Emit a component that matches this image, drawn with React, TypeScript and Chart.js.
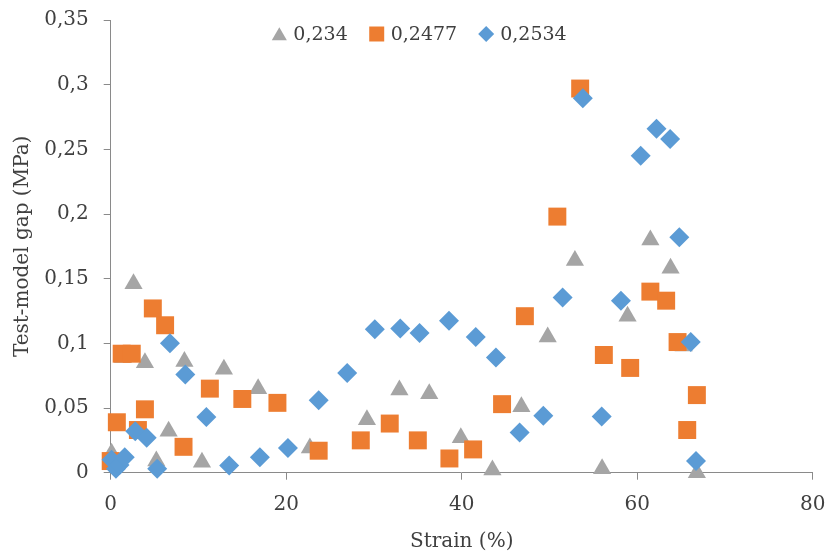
import React, { useEffect, useRef } from 'react';
import { Chart, registerables } from 'chart.js';

Chart.register(...registerables);

// ---- data ----
const seriesNames = ['0,234', '0,2477', '0,2534'];

const xGrey = [0.1, 1.4, 2.6, 3.9, 5.2, 6.6, 8.4, 10.4, 12.9, 16.8, 22.7, 29.2, 32.9, 36.3, 39.9, 43.5, 46.8, 49.8, 52.9, 56.0, 58.9, 61.5, 63.8, 65.3, 66.8];
const yGrey = [0.015, 0.089, 0.146, 0.085, 0.009, 0.032, 0.086, 0.008, 0.080, 0.065, 0.019, 0.041, 0.064, 0.061, 0.027, 0.002, 0.051, 0.105, 0.164, 0.003, 0.121, 0.180, 0.158, 0.098, 0.0];

const xOrange = [0.0, 0.7, 1.25, 2.4, 3.1, 3.9, 4.8, 6.2, 8.3, 11.3, 15.0, 19.0, 23.7, 28.5, 31.8, 35.0, 38.6, 41.3, 44.6, 47.2, 50.9, 53.5, 56.2, 59.2, 61.5, 63.3, 64.6, 65.7, 66.8];
const yOrange = [0.009, 0.039, 0.092, 0.092, 0.033, 0.049, 0.127, 0.114, 0.020, 0.065, 0.057, 0.054, 0.017, 0.025, 0.038, 0.025, 0.011, 0.018, 0.053, 0.121, 0.198, 0.297, 0.091, 0.081, 0.140, 0.133, 0.101, 0.033, 0.060];

const xBlue = [0.1, 0.6, 1.0, 1.6, 2.8, 4.1, 5.3, 6.75, 8.5, 10.9, 13.5, 17.0, 20.2, 23.7, 26.95, 30.1, 33.0, 35.2, 38.55, 41.6, 43.9, 46.6, 49.3, 51.5, 53.8, 55.95, 58.15, 60.4, 62.2, 63.75, 64.8, 66.1, 66.7];
const yBlue = [0.010, 0.003, 0.006, 0.012, 0.032, 0.027, 0.003, 0.100, 0.076, 0.043, 0.0055, 0.012, 0.019, 0.056, 0.077, 0.111, 0.1115, 0.108, 0.1175, 0.105, 0.089, 0.031, 0.044, 0.1355, 0.2895, 0.0435, 0.133, 0.245, 0.266, 0.258, 0.182, 0.101, 0.009];

const xMin = 0;
const xMax = 80;
const xStep = 20;
const yMin = 0;
const yMax = 0.35;
const yStep = 0.05;

const xTitle = 'Strain (%)';
const yTitle = 'Test-model gap (MPa)';

// ---- styles ----
const FONT = '"DejaVu Serif", "Liberation Serif", serif';
const textColor = '#404040';
const axisColor = '#8a8a8a';
const colors = ['#A5A5A5', '#ED7D31', '#5B9BD5'];
const styles = ['triangle', 'rect', 'rectRot'];
const radii = [10.5, 12.7, 10];
const legendRadii = [8.7, 10.6, 8];

function pts(xs: number[], ys: number[]) {
  return xs.map((x, i) => ({ x, y: ys[i] }));
}

function fmt(v: number) {
  const r = Math.round(v * 100) / 100;
  return String(r).replace('.', ',');
}

function drawMarker(ctx: CanvasRenderingContext2D, style: string, x: number, y: number, r: number) {
  ctx.beginPath();
  if (style === 'triangle') {
    ctx.moveTo(x, y - r);
    ctx.lineTo(x + r * Math.sin(Math.PI / 3), y + r / 2);
    ctx.lineTo(x - r * Math.sin(Math.PI / 3), y + r / 2);
  } else if (style === 'rect') {
    const s = r * Math.SQRT1_2;
    ctx.rect(x - s, y - s, 2 * s, 2 * s);
  } else {
    ctx.moveTo(x - r, y);
    ctx.lineTo(x, y - r);
    ctx.lineTo(x + r, y);
    ctx.lineTo(x, y + r);
  }
  ctx.closePath();
  ctx.fill();
}

const legendPlugin = {
  id: 'customLegend',
  afterDraw(chart: any) {
    const ctx: CanvasRenderingContext2D = chart.ctx;
    ctx.save();
    ctx.font = '19px ' + FONT;
    ctx.fillStyle = textColor;
    ctx.textBaseline = 'middle';
    ctx.textAlign = 'left';
    const legendCenterX = 418.5;
    const legendY = 34;
    const textGap = 14;
    const itemGap = 29;
    const widths = seriesNames.map((n) => ctx.measureText(n).width);
    let total = 9;
    widths.forEach((w, i) => {
      total += textGap + w + (i < widths.length - 1 ? itemGap : 0);
    });
    let cx = legendCenterX - total / 2 + 9;
    seriesNames.forEach((n, i) => {
      ctx.fillStyle = colors[i];
      drawMarker(ctx, styles[i], cx, legendY + (styles[i] === 'triangle' ? 2 : 0), legendRadii[i]);
      ctx.fillStyle = textColor;
      ctx.fillText(n, cx + textGap, legendY + 1);
      cx += textGap + widths[i] + itemGap;
    });
    ctx.restore();
  },
};

function noScalePadding(s: any) {
  s.paddingLeft = 0;
  s.paddingRight = 0;
  s.paddingTop = 0;
  s.paddingBottom = 0;
}

export default function App() {
  const ref = useRef<HTMLCanvasElement | null>(null);

  useEffect(() => {
    if (!ref.current) return;
    const tickFont = { family: FONT, size: 20 };
    const chart = new Chart(ref.current, {
      type: 'scatter',
      data: {
        datasets: [
          { label: seriesNames[0], data: pts(xGrey, yGrey), order: 3 },
          { label: seriesNames[1], data: pts(xOrange, yOrange), order: 2 },
          { label: seriesNames[2], data: pts(xBlue, yBlue), order: 1 },
        ].map((d, i) => ({
          ...d,
          pointStyle: styles[i] as any,
          pointRadius: radii[i],
          pointHoverRadius: radii[i],
          backgroundColor: colors[i],
          borderColor: colors[i],
          pointBorderWidth: 0,
          clip: false as any,
        })),
      },
      options: {
        animation: false,
        responsive: true,
        maintainAspectRatio: false,
        events: [],
        layout: { padding: { left: 0, right: 13.3, top: 20, bottom: 0 } },
        plugins: {
          legend: { display: false },
          tooltip: { enabled: false },
        },
        scales: {
          x: {
            type: 'linear',
            min: xMin,
            max: xMax,
            ticks: { stepSize: xStep, color: textColor, font: tickFont, padding: 13, maxRotation: 0 },
            grid: { drawOnChartArea: false, drawTicks: true, tickLength: 7, color: axisColor },
            border: { color: axisColor, width: 1 },
            title: { display: true, text: xTitle, color: textColor, font: tickFont, padding: { top: 0, bottom: 3 } },
            afterFit: (s: any) => {
              s.height = 84.3;
              noScalePadding(s);
            },
          },
          y: {
            type: 'linear',
            min: yMin,
            max: yMax,
            ticks: { stepSize: yStep, color: textColor, font: tickFont, padding: 15, callback: (v: any) => fmt(Number(v)) },
            grid: { drawOnChartArea: false, drawTicks: true, tickLength: 7, color: axisColor },
            border: { color: axisColor, width: 1 },
            title: { display: true, text: yTitle, color: textColor, font: tickFont, padding: { top: 11, bottom: 0 } },
            afterFit: (s: any) => {
              s.width = 110.7;
              noScalePadding(s);
            },
          },
        },
      },
      plugins: [legendPlugin],
    });
    return () => chart.destroy();
  }, []);

  return (
    <div style={{ position: 'absolute', left: 0, top: 0, width: 826, height: 557, background: '#fff' }}>
      <canvas ref={ref} />
    </div>
  );
}
